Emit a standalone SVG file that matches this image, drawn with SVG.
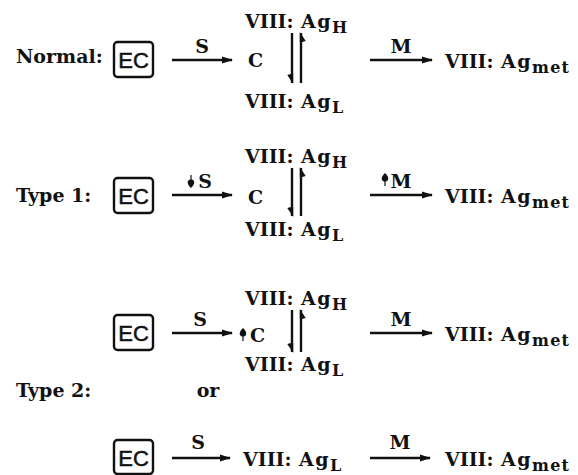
<svg xmlns="http://www.w3.org/2000/svg" width="578" height="475" viewBox="0 0 578 475">
<style>
.t{font-family:"DejaVu Serif","Liberation Serif",serif;font-weight:bold;font-size:19px;fill:#111}
.sub{font-size:16px}
.ag{letter-spacing:1.5px}
.ec{font-family:"Liberation Sans",Arial,sans-serif;font-size:22px;fill:#111;stroke:#111;stroke-width:0.5;text-anchor:middle}
.box{fill:#fff;stroke:#111;stroke-width:2.4}
.ln{stroke:#111;stroke-width:2.6;fill:none}
.hp{stroke:#111;stroke-width:2.4;fill:none}
.fl{fill:#111;stroke:none}
.mid{text-anchor:middle}
</style>
<defs>
<marker id="ah" markerWidth="11" markerHeight="8" refX="10" refY="4" orient="auto" markerUnits="userSpaceOnUse">
<path d="M0,0.6 L11,4 L0,7.4 Z" fill="#111"/>
</marker>
</defs>

<!-- Row 1 -->
<g id="normal-label"><text class="t" x="16" y="63">Normal:</text></g>
<g id="r1-ec"><rect class="box" x="114" y="42" width="39" height="35" rx="3.5"/><text class="ec" x="133.5" y="67.5">EC</text></g>
<g id="r1-c"><text class="t" x="248" y="67">C</text></g>
<g id="r1-agh"><text class="t" y="28"><tspan x="245">VIII:</tspan><tspan class="ag" x="301">Ag</tspan><tspan class="sub" dy="5">H</tspan></text></g>
<g id="r1-agl"><text class="t" y="108"><tspan x="245">VIII:</tspan><tspan class="ag" x="301">Ag</tspan><tspan class="sub" dy="5">L</tspan></text></g>
<g id="r1-agmet"><text class="t" y="68"><tspan x="445">VIII:</tspan><tspan class="ag" x="501">Ag</tspan><tspan class="sub" dy="5" letter-spacing="1.2">met</tspan></text></g>

<!-- Row 2 -->
<g id="type1-label"><text class="t" x="16" y="202">Type 1:</text></g>
<g id="r2-ec"><rect class="box" x="114" y="178" width="39" height="35" rx="3.5"/><text class="ec" x="133.5" y="203.5">EC</text></g>
<g id="r2-c"><text class="t" x="248" y="204">C</text></g>
<g id="r2-agh"><text class="t" y="163"><tspan x="245">VIII:</tspan><tspan class="ag" x="301">Ag</tspan><tspan class="sub" dy="5">H</tspan></text></g>
<g id="r2-agl"><text class="t" y="236"><tspan x="245">VIII:</tspan><tspan class="ag" x="301">Ag</tspan><tspan class="sub" dy="5">L</tspan></text></g>
<g id="r2-agmet"><text class="t" y="203"><tspan x="445">VIII:</tspan><tspan class="ag" x="501">Ag</tspan><tspan class="sub" dy="5" letter-spacing="1.2">met</tspan></text></g>

<!-- Row 3 -->
<g id="r3-ec"><rect class="box" x="114" y="315" width="39" height="35" rx="3.5"/><text class="ec" x="133.5" y="340.5">EC</text></g>
<g id="r3-c"><text class="t" x="250" y="342">C</text></g>
<g id="r3-agh"><text class="t" y="305"><tspan x="245">VIII:</tspan><tspan class="ag" x="301">Ag</tspan><tspan class="sub" dy="5">H</tspan></text></g>
<g id="r3-agl"><text class="t" y="371"><tspan x="245">VIII:</tspan><tspan class="ag" x="301">Ag</tspan><tspan class="sub" dy="5">L</tspan></text></g>
<g id="r3-agmet"><text class="t" y="341"><tspan x="445">VIII:</tspan><tspan class="ag" x="501">Ag</tspan><tspan class="sub" dy="5" letter-spacing="1.2">met</tspan></text></g>

<g id="type2-label"><text class="t" x="16" y="397">Type 2:</text></g>
<g id="or-label"><text class="t mid" x="208" y="397">or</text></g>

<!-- Row 4 -->
<g id="r4-ec"><rect class="box" x="114" y="440" width="39" height="34" rx="3.5"/><text class="ec" x="133.5" y="465.5">EC</text></g>
<g id="r4-agl"><text class="t" y="466"><tspan x="243">VIII:</tspan><tspan class="ag" x="299">Ag</tspan><tspan class="sub" dy="5">L</tspan></text></g>
<g id="r4-agmet"><text class="t" y="466"><tspan x="445">VIII:</tspan><tspan class="ag" x="501">Ag</tspan><tspan class="sub" dy="5" letter-spacing="1.2">met</tspan></text></g>

<g id="connectors">
<!-- Row 1 -->
<line class="ln" x1="172" y1="60" x2="232" y2="60" marker-end="url(#ah)"/>
<text class="t mid" x="202" y="53">S</text>
<line class="ln" x1="370" y1="60" x2="432" y2="60" marker-end="url(#ah)"/>
<text class="t mid" x="401" y="53">M</text>
<path class="hp" d="M292,33 V83"/><path class="fl" d="M293.2,84 L287.3,75 L290.8,74 L293.2,74 Z"/>
<path class="hp" d="M301,83 V33"/><path class="fl" d="M299.8,32 L305.7,41 L302.2,42 L299.8,42 Z"/>

<!-- Row 2 -->
<line class="ln" x1="172" y1="195" x2="232" y2="195" marker-end="url(#ah)"/>
<path class="fl" d="M191,188 C186.5,184 187,180 190.4,179.5 L190.4,175 L191.6,175 L191.6,179.5 C195,180 195.5,184 191,188 Z"/>
<text class="t mid" x="205" y="188">S</text>
<line class="ln" x1="370" y1="195" x2="432" y2="195" marker-end="url(#ah)"/>
<path class="fl" d="M385,173 C380.5,177 381,181 384.4,181.5 L384.4,186 L385.6,186 L385.6,181.5 C389,181 389.5,177 385,173 Z"/>
<text class="t mid" x="401" y="188">M</text>
<path class="hp" d="M292,168 V216"/><path class="fl" d="M293.2,217 L287.3,208 L290.8,207 L293.2,207 Z"/>
<path class="hp" d="M301,216 V168"/><path class="fl" d="M299.8,167 L305.7,176 L302.2,177 L299.8,177 Z"/>

<!-- Row 3 -->
<line class="ln" x1="172" y1="333" x2="232" y2="333" marker-end="url(#ah)"/>
<text class="t mid" x="200" y="326">S</text>
<path class="fl" d="M243,328 C238.5,332 239,336 242.4,336.5 L242.4,341 L243.6,341 L243.6,336.5 C247,336 247.5,332 243,328 Z"/>
<line class="ln" x1="370" y1="333" x2="432" y2="333" marker-end="url(#ah)"/>
<text class="t mid" x="401" y="326">M</text>
<path class="hp" d="M292,310 V352"/><path class="fl" d="M293.2,353 L287.3,344 L290.8,343 L293.2,343 Z"/>
<path class="hp" d="M301,352 V310"/><path class="fl" d="M299.8,309 L305.7,318 L302.2,319 L299.8,319 Z"/>

<!-- Row 4 -->
<line class="ln" x1="172" y1="458" x2="230" y2="458" marker-end="url(#ah)"/>
<text class="t mid" x="198" y="449">S</text>
<line class="ln" x1="370" y1="458" x2="430" y2="458" marker-end="url(#ah)"/>
<text class="t mid" x="400" y="449">M</text>
</g>
</svg>
